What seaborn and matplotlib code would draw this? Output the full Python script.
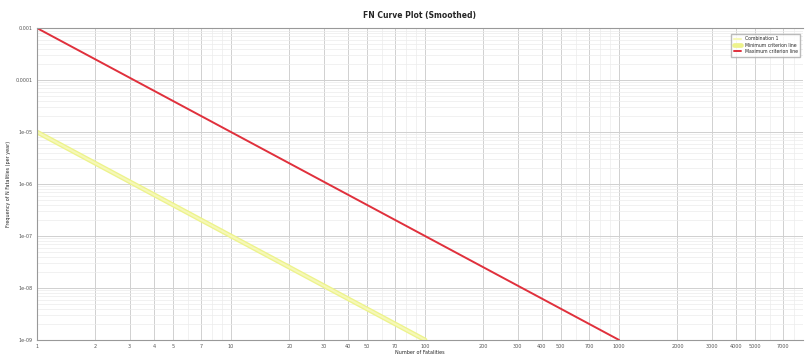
import matplotlib
matplotlib.use("Agg")
import matplotlib.pyplot as plt
import seaborn as sns
import pandas as pd
import numpy as np
from matplotlib.ticker import LogLocator, NullFormatter, FixedLocator, FixedFormatter

# ---- data ----
max_n = [1, 10, 100, 1000]
max_f = [1e-3, 1e-5, 1e-7, 1e-9]
min_n = [1, 10, 100]
min_f = [1e-5, 1e-7, 1e-9]
comb_n = [1, 10, 100]
comb_f = [1e-5, 1e-7, 1e-9]

x_ticks = [1, 2, 3, 4, 5, 7, 10, 20, 30, 40, 50, 70, 100, 200, 300, 400, 500, 700,
           1000, 2000, 3000, 4000, 5000, 7000]
x_labels = [str(v) for v in x_ticks]
y_ticks = [1e-3, 1e-4, 1e-5, 1e-6, 1e-7, 1e-8, 1e-9]
y_labels = ["0.001", "0.0001", "1e-05", "1e-06", "1e-07", "1e-08", "1e-09"]

sns.set_theme(style="white")
plt.rcParams['font.family'] = ['DejaVu Sans']

fig = plt.figure(figsize=(8.06, 3.56), dpi=100)
ax = fig.add_axes([0.046, 0.045, 0.95, 0.876])

df_c = pd.DataFrame({"N": comb_n, "F": comb_f})
df_min = pd.DataFrame({"N": min_n, "F": min_f})
df_max = pd.DataFrame({"N": max_n, "F": max_f})

sns.lineplot(data=df_min, x="N", y="F", ax=ax, color="#edf38c", lw=3.4,
             label="Minimum criterion line")
sns.lineplot(data=df_c, x="N", y="F", ax=ax, color="#f6f8b8", lw=1.5,
             label="Combination 1")
sns.lineplot(data=df_max, x="N", y="F", ax=ax, color="#e0303c", lw=1.4,
             label="Maximum criterion line")

ax.set_xscale("log")
ax.set_yscale("log")
ax.set_xlim(1, 8850)
ax.set_ylim(1e-9, 1e-3)

ax.xaxis.set_major_locator(FixedLocator(x_ticks))
ax.xaxis.set_major_formatter(FixedFormatter(x_labels))
ax.xaxis.set_minor_locator(LogLocator(base=10, subs=np.arange(1, 10), numticks=20))
ax.xaxis.set_minor_formatter(NullFormatter())
ax.yaxis.set_major_locator(FixedLocator(y_ticks))
ax.yaxis.set_major_formatter(FixedFormatter(y_labels))
ax.yaxis.set_minor_locator(LogLocator(base=10, subs=np.arange(2, 10), numticks=20))
ax.yaxis.set_minor_formatter(NullFormatter())

ax.grid(which="major", color="#d0d0d0", lw=0.7)
ax.grid(which="minor", color="#ececec", lw=0.5)
ax.tick_params(axis="both", which="major", labelsize=3.5, length=2, width=0.5,
               pad=1.2, colors="#555555")
ax.tick_params(axis="both", which="minor", length=0)

for s in ["left", "bottom", "top"]:
    ax.spines[s].set_color("#999999")
    ax.spines[s].set_linewidth(0.8)
ax.spines["right"].set_visible(False)

ax.set_title("FN Curve Plot (Smoothed)", fontsize=5.5, fontweight="bold", pad=7)
ax.set_xlabel("Number of Fatalities", fontsize=3.5, labelpad=0.5)
ax.set_ylabel("Frequency of N Fatalities (per year)", fontsize=3.5, labelpad=3)

handles, labels = ax.get_legend_handles_labels()
order = [labels.index("Combination 1"), labels.index("Minimum criterion line"),
         labels.index("Maximum criterion line")]
ax.legend([handles[i] for i in order], [labels[i] for i in order],
          loc="upper right", fontsize=3.3, frameon=True, fancybox=False,
          edgecolor="#aaaaaa", handlelength=1.5, borderpad=0.6, labelspacing=0.3,
          bbox_to_anchor=(1.0, 0.99))

fig.savefig("out.png", dpi=100)
